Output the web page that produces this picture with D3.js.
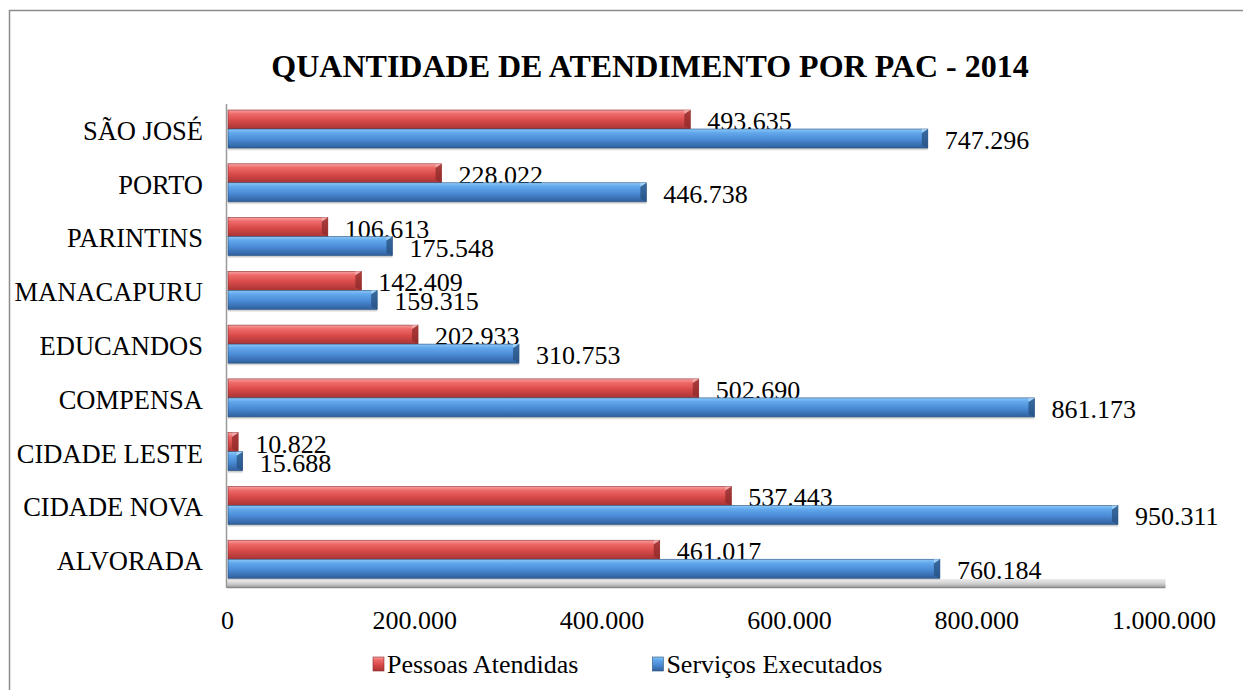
<!DOCTYPE html>
<html>
<head>
<meta charset="utf-8">
<script src="https://cdn.jsdelivr.net/npm/d3@7"></script>
<style>
  body { margin: 0; background: #fff; }
  text { font-family: "Liberation Serif", "Times New Roman", serif; fill: #000; }
</style>
</head>
<body>
<div id="chart"></div>
<script>
// categories, top to bottom as drawn
var categories = ["SÃO JOSÉ", "PORTO", "PARINTINS", "MANACAPURU", "EDUCANDOS", "COMPENSA", "CIDADE LESTE", "CIDADE NOVA", "ALVORADA"];
var pessoasAtendidas = [493635, 228022, 106613, 142409, 202933, 502690, 10822, 537443, 461017];
var servicosExecutados = [747296, 446738, 175548, 159315, 310753, 861173, 15688, 950311, 760184];
var tickValues = [0, 200000, 400000, 600000, 800000, 1000000];
var seriesNames = ["Pessoas Atendidas", "Serviços Executados"];

var width = 1243, height = 690;

var svg = d3.select("#chart").append("svg")
    .attr("width", width)
    .attr("height", height);

var defs = svg.append("defs");

// gradients for the 3d look of the bars
function barGradient(id, stops) {
    var g = defs.append("linearGradient")
        .attr("id", id)
        .attr("x1", 0).attr("y1", 0).attr("x2", 0).attr("y2", 1);
    stops.forEach(function(s) {
        g.append("stop").attr("offset", s[0]).attr("stop-color", s[1]);
    });
}
barGradient("gradRed", [[0, "#f6a3a3"], [0.2, "#ef6a6a"], [0.55, "#d94a4a"], [1, "#a83434"]]);
barGradient("gradBlue", [[0, "#8cc8f6"], [0.2, "#62a8ec"], [0.55, "#4b8bd6"], [1, "#2f5f9c"]]);
barGradient("gradFloor", [[0, "#ececec"], [0.5, "#d4d4d4"], [1, "#a8a8a8"]]);
barGradient("gradShadow", [[0, "#9a9a9a"], [1, "#ffffff"]]);

// outer frame (only top and left visible)
svg.append("path")
    .attr("d", "M9.5," + height + " L9.5,10.5 L" + width + ",10.5")
    .attr("fill", "none")
    .attr("stroke", "#8c8c8c")
    .attr("stroke-width", 1.5);

// title
svg.append("text")
    .attr("x", 650)
    .attr("y", 66)
    .attr("text-anchor", "middle")
    .attr("dominant-baseline", "central")
    .style("font-size", "32px")
    .style("font-weight", "bold")
    .text("QUANTIDADE DE ATENDIMENTO POR PAC - 2014");

// scales
var x = d3.scaleLinear()
    .domain([0, 1000000])
    .range([227, 1163.5]);

var y = d3.scaleBand()
    .domain(categories)
    .range([104, 588]);

var ptBR = d3.formatLocale({decimal: ",", thousands: ".", grouping: [3], currency: ["R$", ""]});
var fmt = ptBR.format(",d");

// floor of the 3d chart
svg.append("rect")
    .attr("x", x(0))
    .attr("y", 579)
    .attr("width", x(1000000) - x(0) + 2)
    .attr("height", 8)
    .attr("fill", "url(#gradFloor)");
svg.append("line")
    .attr("x1", x(0)).attr("x2", x(1000000) + 2)
    .attr("y1", 587.5).attr("y2", 587.5)
    .attr("stroke", "#8a8a8a")
    .attr("stroke-width", 1.5);

// back wall line
svg.append("line")
    .attr("x1", x(0) - 0.5).attr("x2", x(0) - 0.5)
    .attr("y1", 104).attr("y2", 588)
    .attr("stroke", "#9a9a9a")
    .attr("stroke-width", 1.5);

var barH = 19;
var series = [
    {name: seriesNames[0], values: pessoasAtendidas, offset: 6, fill: "url(#gradRed)", cap: "#8e2a2a", capLight: "#f3b0b0"},
    {name: seriesNames[1], values: servicosExecutados, offset: 25, fill: "url(#gradBlue)", cap: "#27507f", capLight: "#a8d6fa"}
];

// shadows under blue bars
svg.append("g").selectAll("rect")
    .data(categories)
    .join("rect")
    .attr("x", x(0) + 1)
    .attr("y", function(d) { return y(d) + 25 + barH; })
    .attr("width", function(d, i) { return x(servicosExecutados[i]) - x(0); })
    .attr("height", 3)
    .attr("fill", "url(#gradShadow)")
    .attr("opacity", 0.7);

series.forEach(function(s) {
    var g = svg.append("g");
    var bars = g.selectAll("g.bar")
        .data(categories)
        .join("g")
        .attr("class", "bar");

    bars.append("rect")
        .attr("x", x(0) + 1)
        .attr("y", function(d) { return y(d) + s.offset; })
        .attr("width", function(d, i) { return x(s.values[i]) - x(0); })
        .attr("height", barH)
        .attr("fill", s.fill)
        .attr("stroke", s.cap)
        .attr("stroke-width", 0.6);

    // bevelled right end
    bars.append("path")
        .attr("d", function(d, i) {
            var xe = x(s.values[i]) + 1, y0 = y(d) + s.offset, w = Math.min(6, xe - x(0) - 1);
            return "M" + (xe - w) + "," + (y0 + 4) + " L" + xe + "," + y0 + " L" + xe + "," + (y0 + barH) +
                " L" + (xe - w) + "," + (y0 + barH - 3) + "Z";
        })
        .attr("fill", s.cap)
        .attr("opacity", 0.75);
    bars.append("path")
        .attr("d", function(d, i) {
            var xe = x(s.values[i]) + 1, y0 = y(d) + s.offset, w = Math.min(6, xe - x(0) - 1);
            return "M" + (xe - w) + "," + (y0 + 4) + " L" + xe + "," + y0 + " L" + (xe - w) + "," + y0 + "Z";
        })
        .attr("fill", s.capLight)
        .attr("opacity", 0.8);

    // value labels
    g.selectAll("text.val")
        .data(categories)
        .join("text")
        .attr("class", "val")
        .attr("x", function(d, i) { return x(s.values[i]) + 18; })
        .attr("y", function(d) { return y(d) + s.offset + barH / 2 + 2; })
        .attr("dominant-baseline", "central")
        .style("font-size", "26px")
        .text(function(d, i) { return fmt(s.values[i]); });
});

// category labels
svg.append("g").selectAll("text")
    .data(categories)
    .join("text")
    .attr("x", 203)
    .attr("y", function(d) { return y(d) + y.bandwidth() / 2; })
    .attr("text-anchor", "end")
    .attr("dominant-baseline", "central")
    .style("font-size", "26.5px")
    .text(function(d) { return d; });

// x axis tick labels
var xAxis = svg.append("g")
    .attr("transform", "translate(0,607)")
    .call(d3.axisBottom(x).tickValues(tickValues).tickFormat(fmt).tickSize(0).tickPadding(0));
xAxis.select(".domain").remove();
xAxis.selectAll("text")
    .attr("dy", null)
    .attr("y", 13)
    .attr("dominant-baseline", "central")
    .style("font-family", "'Liberation Serif', 'Times New Roman', serif")
    .style("font-size", "26px")
    .attr("fill", "#000");

// legend
var legend = svg.append("g").attr("transform", "translate(373,664)");
var lx = 0;
series.forEach(function(s) {
    var item = legend.append("g").attr("transform", "translate(" + lx + ",0)");
    item.append("rect")
        .attr("x", 0).attr("y", -7)
        .attr("width", 11).attr("height", 14)
        .attr("fill", s.fill)
        .attr("stroke", s.cap)
        .attr("stroke-width", 0.6);
    var t = item.append("text")
        .attr("x", 14)
        .attr("y", 0)
        .attr("dominant-baseline", "central")
        .style("font-size", "26px")
        .text(s.name);
    lx += 14 + t.node().getComputedTextLength() + 74;
});
</script>
</body>
</html>
